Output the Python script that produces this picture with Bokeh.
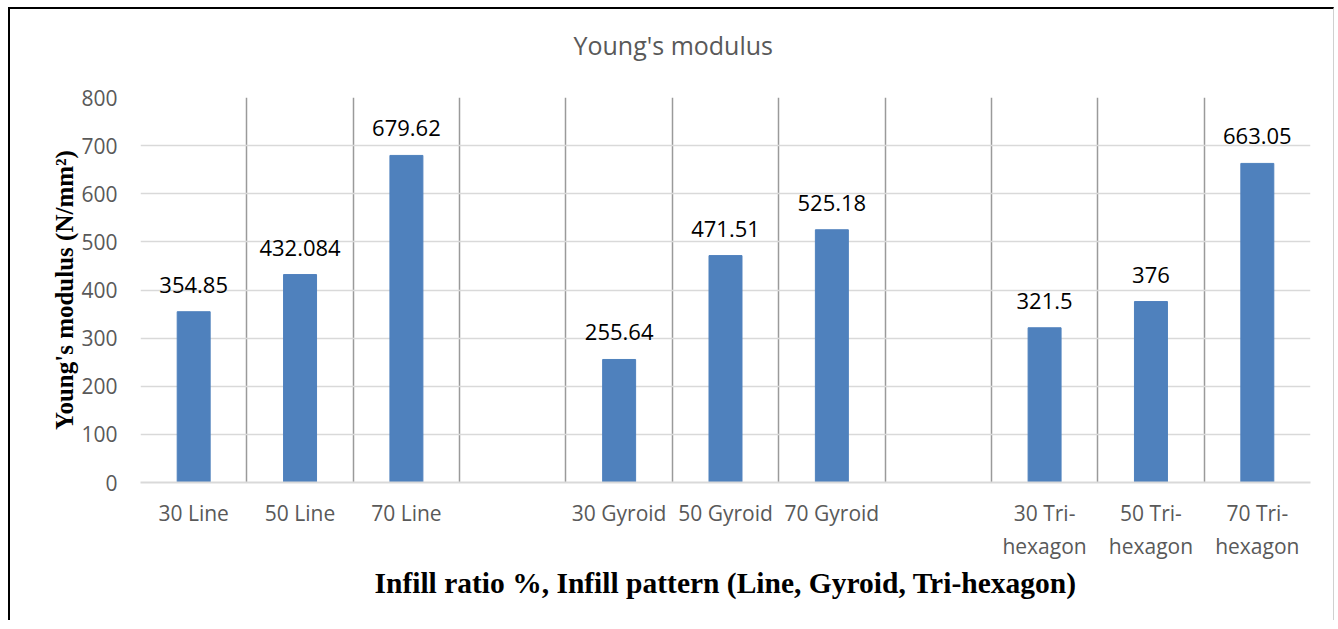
from bokeh.plotting import figure
from bokeh.models import ColumnDataSource, FixedTicker, Range1d, LabelSet
from bokeh.core.properties import value
from bokeh.embed import file_html
from bokeh.resources import INLINE

categories = ["30 Line", "50 Line", "70 Line", "",
              "30 Gyroid", "50 Gyroid", "70 Gyroid", "",
              "30 Tri-\nhexagon", "50 Tri-\nhexagon", "70 Tri-\nhexagon"]
values = [354.85, 432.084, 679.62, None,
          255.64, 471.51, 525.18, None,
          321.5, 376, 663.05]
value_labels = ["354.85", "432.084", "679.62", "",
                "255.64", "471.51", "525.18", "",
                "321.5", "376", "663.05"]
y_ticks = [0, 100, 200, 300, 400, 500, 600, 700, 800]

idx = [i for i, v in enumerate(values) if v is not None]
src = ColumnDataSource(dict(
    x=idx,
    top=[values[i] for i in idx],
    label=[value_labels[i] for i in idx],
))

n = len(categories)
p = figure(width=1326, height=613, output_backend="svg", toolbar_location=None,
           x_range=Range1d(-0.5, n - 0.5), y_range=Range1d(0, 800),
           min_border_left=130, min_border_right=26, min_border_top=88,
           min_border_bottom=140, outline_line_color=None,
           title="Young's modulus\n ",
           styles={"margin-left": "8px", "margin-top": "7px",
                   "border-left": "2px solid black", "border-top": "2px solid black",
                   "border-right": "1px solid #d0d0d0"})

p.title.align = "left"
p.title.offset = 433
p.title.standoff = 4
p.title.vertical_align = "bottom"
p.title.text_font = "Open Sans"
p.title.text_font_size = "25px"
p.title.text_font_style = "normal"
p.title.text_color = "#595959"

p.vbar(x="x", top="top", width=0.31, source=src, fill_color="#4F81BD",
       line_color="#4F81BD")

p.add_layout(LabelSet(x="x", y="top", text="label", source=src, text_align="center",
                      text_baseline="bottom", y_offset=19, text_font_size=value("22px"),
                      text_font=value("Open Sans"), text_color="#000000"))

# axes
p.xaxis.ticker = FixedTicker(ticks=idx)
p.xaxis.major_label_overrides = {i: categories[i] for i in idx}
p.xaxis.major_tick_line_color = None
p.xaxis.minor_tick_line_color = None
p.xaxis.axis_line_color = "#d9d9d9"
p.xaxis.axis_line_width = 2
p.xaxis.major_label_standoff = 10
p.xaxis.major_label_text_font = "Open Sans"
p.xaxis.major_label_text_font_size = "21px"
p.xaxis.major_label_text_color = "#595959"
p.xaxis.axis_label = "Infill ratio %, Infill pattern (Line, Gyroid, Tri-hexagon)"
p.xaxis.axis_label_text_font = "Liberation Serif"
p.xaxis.axis_label_text_font_style = "bold"
p.xaxis.axis_label_text_font_size = "29.5px"
p.xaxis.axis_label_text_color = "#000000"
p.xaxis.axis_label_standoff = 4

p.yaxis.ticker = FixedTicker(ticks=y_ticks)
p.yaxis.major_tick_line_color = None
p.yaxis.minor_tick_line_color = None
p.yaxis.axis_line_color = None
p.yaxis.major_label_standoff = 17
p.yaxis.major_label_text_font = "Open Sans"
p.yaxis.major_label_text_font_size = "21px"
p.yaxis.major_label_text_color = "#595959"
p.yaxis.axis_label = "Young's modulus (N/mm²)"
p.yaxis.axis_label_text_font = "Liberation Serif"
p.yaxis.axis_label_text_font_style = "bold"
p.yaxis.axis_label_text_font_size = "25px"
p.yaxis.axis_label_text_color = "#000000"
p.yaxis.axis_label_standoff = 0

p.ygrid.grid_line_color = "#d9d9d9"
p.ygrid.grid_line_width = 1.5
p.ygrid.ticker = FixedTicker(ticks=y_ticks)
p.xgrid.ticker = FixedTicker(ticks=[i - 0.5 for i in range(n + 1)])
p.xgrid.grid_line_color = "#9a9a9a"
p.xgrid.grid_line_width = 1.5

open("out.html", "w").write(file_html(p, INLINE))
